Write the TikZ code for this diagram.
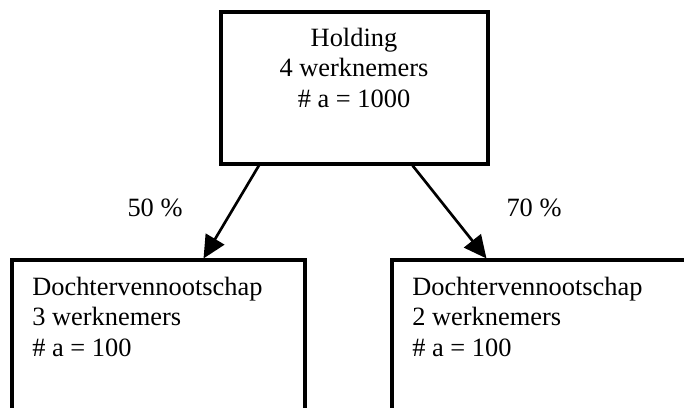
\documentclass[tikz,border=0pt]{standalone}
\usepackage{fontspec}
\setmainfont{Liberation Serif}
\usetikzlibrary{arrows.meta,calc,fit}
\begin{document}
\begin{tikzpicture}[x=0.75pt,y=-0.75pt,
  box/.style={draw=black, line width=2.3pt, rectangle, inner sep=0pt},
  txt/.style={inner sep=0pt, font=\fontsize{19.8}{22.8}\selectfont},
  arr/.style={line width=2pt, -{Triangle[length=17pt,width=16pt]}}]
\useasboundingbox (0,0) rectangle (684,407);
\clip (0,0) rectangle (684,407);
\fill[white] (0,0) rectangle (684,407);
\node[box, fit={(221,12) (488,164)}] (holding) {};
\node[box, fit={(12,260) (305,450)}] (d1) {};
\node[box, fit={(392,260) (720,450)}] (d2) {};
\node[txt, align=center, anchor=north] (ht) at (354,28) {Holding\\4 werknemers\\\# a = 1000};
\node[txt, align=left, anchor=north west] (d1t) at (32,277) {Dochtervennootschap\\3 werknemers\\\# a = 100};
\node[txt, align=left, anchor=north west] (d2t) at (412,277) {Dochtervennootschap\\2 werknemers\\\# a = 100};
\draw[arr] ($(holding.south west)!0.146!(holding.south east)$) -- ($(d1.north west)!0.652!(d1.north east)$);
\draw[arr] ($(holding.south west)!0.715!(holding.south east)$) -- ($(d2.north west)!0.29!(d2.north east)$);
\node[txt] (p1) at (155,208) {50 \%};
\node[txt] (p2) at (534,208) {70 \%};
\end{tikzpicture}
\end{document}
